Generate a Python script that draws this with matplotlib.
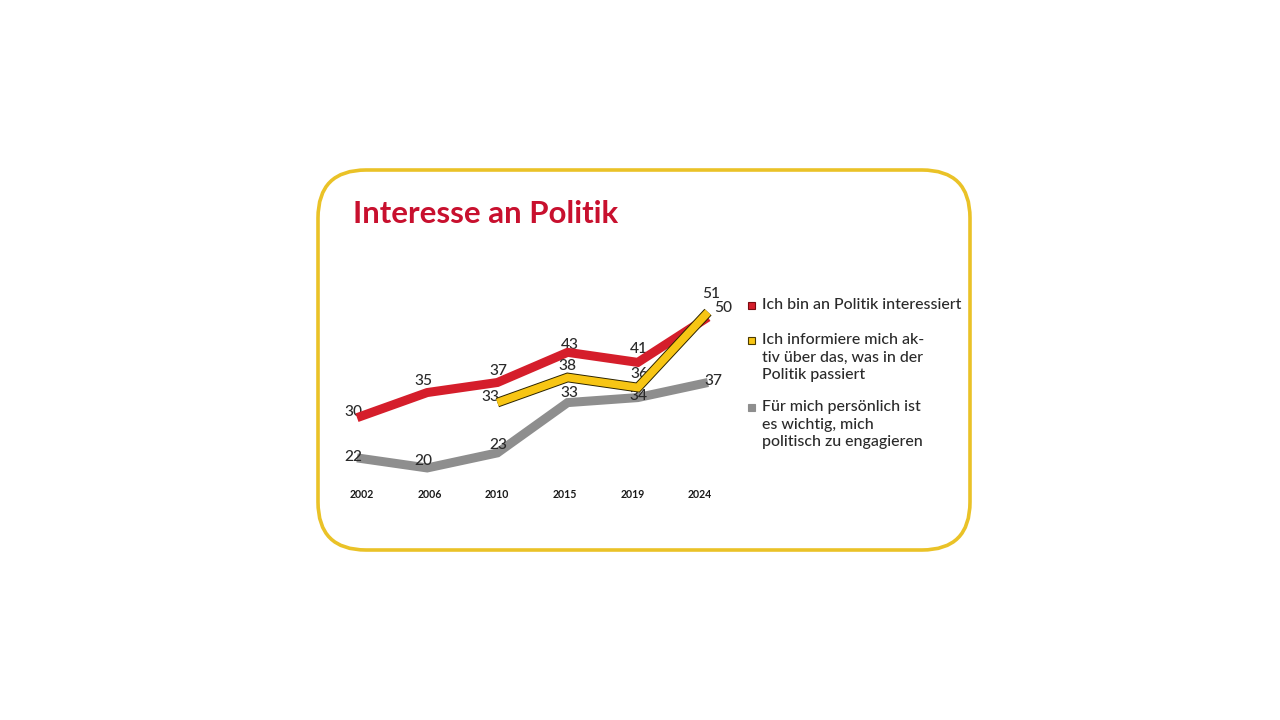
import matplotlib
matplotlib.use("Agg")
import matplotlib.pyplot as plt
import matplotlib.patheffects as pe
from matplotlib.patches import FancyBboxPatch, Rectangle

years = ["2002", "2006", "2010", "2015", "2019", "2024"]
interessiert = [30, 35, 37, 43, 41, 50]
informiere = [None, None, 33, 38, 36, 51]
engagieren = [22, 20, 23, 33, 34, 37]

legend_labels = [
    "Ich bin an Politik interessiert",
    "Ich informiere mich ak-\ntiv über das, was in der\nPolitik passiert",
    "Für mich persönlich ist\nes wichtig, mich\npolitisch zu engagieren",
]
title = "Interesse an Politik"

RED = "#D51E2B"
YEL = "#F7C514"
GRAY = "#8E8E8E"
TXT = "#2a2a2a"
FONT = ["Lato", "DejaVu Sans"]

fig = plt.figure(figsize=(12.8, 7.2), dpi=100)
fig.patch.set_facecolor("white")

# background axes in pixel coords
bg = fig.add_axes([0, 0, 1, 1])
bg.set_xlim(0, 1280)
bg.set_ylim(720, 0)
bg.axis("off")
bg.add_patch(FancyBboxPatch((318, 170), 652, 380,
                            boxstyle="round,pad=0,rounding_size=48",
                            fc="white", ec="#EAC227", lw=2.6))
bg.text(353, 214, title, color="#C8102E", fontsize=22.4, fontweight="bold",
        family=FONT, ha="left", va="center")

# legend
leg_y = [305, 340, 407]
leg_col = [RED, YEL, GRAY]
leg_ec = ["#7a0a10", "#4a3a00", GRAY]
for y, c, e, lab in zip(leg_y, leg_col, leg_ec, legend_labels):
    bg.add_patch(Rectangle((748, y - 3.5), 7, 7, fc=c, ec=e, lw=0.8))
    for k, line in enumerate(lab.split("\n")):
        bg.text(762, y + k * 17.7, line, color=TXT, fontsize=11.4, family=FONT,
                fontweight="medium", ha="left", va="center")

# main chart axes
x0, x1 = 357, 708
ybot, ytop = 478, 287
ax = fig.add_axes([x0 / 1280, (720 - ybot) / 720, (x1 - x0) / 1280, (ybot - ytop) / 720])
ax.set_xlim(0, 5)
ax.set_ylim(18, 56)
ax.axis("off")
ax.patch.set_alpha(0)

xs = list(range(len(years)))

ax.plot(xs, engagieren, color=GRAY, lw=6.5, solid_joinstyle="miter",
        solid_capstyle="butt", zorder=3, clip_on=False)
ax.plot(xs, interessiert, color=RED, lw=6.5, solid_joinstyle="miter",
        solid_capstyle="butt", zorder=4, clip_on=False)
yx = [x for x, v in zip(xs, informiere) if v is not None]
yv = [v for v in informiere if v is not None]
ax.plot(yx, yv, color=YEL, lw=5.6, solid_joinstyle="miter",
        solid_capstyle="butt", zorder=5, clip_on=False,
        path_effects=[pe.Stroke(linewidth=7.0, foreground="#2b2300"), pe.Normal()])

# value labels (offsets in pixels) and stacking relative to the lines
off_red = [(-4, 6), (-4, 12), (1, 11), (2, 7), (1, 13), (15, 9)]
off_yel = [None, None, (-7, 6), (0, 11), (2, 14), (3, 18)]
off_gray = [(-4, 1), (-4, 7), (1, 8), (2, 10), (1, 2), (5, 1)]
z_lab = [3.8, 4.5, 3.5]
for series, offs, z in zip((interessiert, informiere, engagieren),
                           (off_red, off_yel, off_gray), z_lab):
    for x, v, o in zip(xs, series, offs):
        if v is None:
            continue
        ax.annotate(str(v), (x, v), xytext=o, textcoords="offset pixels",
                    ha="center", va="center", fontsize=11.2, color=TXT,
                    fontweight="medium", family=FONT, zorder=z,
                    annotation_clip=False)

# year labels
for x, yr in zip(xs, years):
    ax.annotate(yr, (x, 18), xytext=(5 - 2.6 * x, -16), textcoords="offset pixels",
                ha="center", va="center", fontsize=7.6, fontweight="bold",
                color="#1a1a1a", family=FONT, annotation_clip=False)

fig.savefig("out.png", dpi=100, facecolor="white")
